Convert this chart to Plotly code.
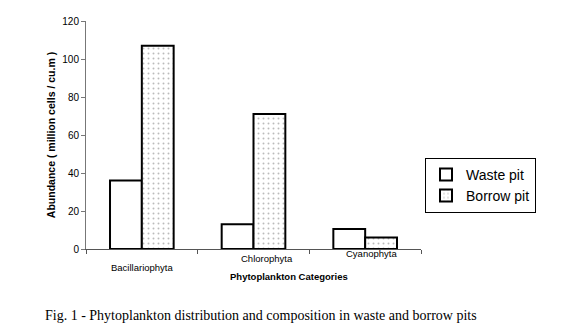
import plotly.graph_objects as go

# Phytoplankton abundance (million cells / cu.m) per category and pit type
categories = ["Bacillariophyta", "Chlorophyta", "Cyanophyta"]
waste_pit = [36, 13, 10.5]
borrow_pit = [107, 71, 6]
y_ticks = [0, 20, 40, 60, 80, 100, 120]

SANS = "Liberation Sans, Arial, sans-serif"

fig = go.Figure()
fig.add_trace(go.Bar(
    name="Waste pit", x=categories, y=waste_pit,
    marker=dict(color="white", line=dict(color="black", width=2)),
))
fig.add_trace(go.Bar(
    name="Borrow pit", x=categories, y=borrow_pit,
    marker=dict(
        color="white", line=dict(color="black", width=2),
        pattern=dict(shape=".", fgcolor="#777777", bgcolor="white",
                     size=5, solidity=0.12),
    ),
))

# category labels sit at slightly different heights under the axis
label_shift = {"Bacillariophyta": (0, -18), "Chlorophyta": (13, -9), "Cyanophyta": (6, -4)}
annotations = []
for cat in categories:
    dx, dy = label_shift[cat]
    annotations.append(dict(
        x=cat, xref="x", y=0, yref="paper", xshift=dx, yshift=dy,
        text=cat, showarrow=False, xanchor="center", yanchor="middle",
        font=dict(family=SANS, size=9.5, color="black"),
    ))

annotations.append(dict(
    x=(289 - 86) / 335, xref="paper", y=0, yref="paper",
    text="<b>Phytoplankton Categories</b>",
    showarrow=False, yshift=-27, yanchor="middle",
    font=dict(family=SANS, size=9.5, color="black"),
))

annotations.append(dict(
    x=(261 - 86) / 335, xref="paper", y=(249 - 315) / 228, yref="paper",
    text="Fig. 1 - Phytoplankton distribution and composition in waste and borrow pits",
    showarrow=False, xanchor="center", yanchor="middle",
    font=dict(family="Liberation Serif, serif", size=14, color="black"),
))

fig.update_layout(
    width=582, height=333,
    margin=dict(l=86, r=161, t=21, b=84),
    paper_bgcolor="white", plot_bgcolor="white",
    barmode="group", bargap=0.43, bargroupgap=0,
    showlegend=True,
    legend=dict(
        x=1.012, y=0.40, xanchor="left", yanchor="top",
        bgcolor="white", bordercolor="black", borderwidth=1,
        font=dict(family=SANS, size=14, color="black"),
        itemwidth=30, tracegroupgap=0,
    ),
    annotations=annotations,
)

fig.update_xaxes(
    range=[-0.5, 2.5], showticklabels=False,
    showline=True, linecolor="#555555", linewidth=1,
    ticks="outside", tickson="boundaries", ticklen=4, tickcolor="#555555",
    showgrid=False, zeroline=False,
)
fig.update_yaxes(
    range=[0, 120], tickvals=y_ticks,
    showline=True, linecolor="#777777", linewidth=1,
    ticks="outside", ticklen=4, tickcolor="#777777",
    tickfont=dict(family=SANS, size=10, color="black"),
    showgrid=False, zeroline=False,
    title=dict(text="<b>Abundance ( million cells / cu.m )</b>",
               font=dict(family=SANS, size=10.5, color="black"), standoff=4),
)

fig.write_html("out.html")
